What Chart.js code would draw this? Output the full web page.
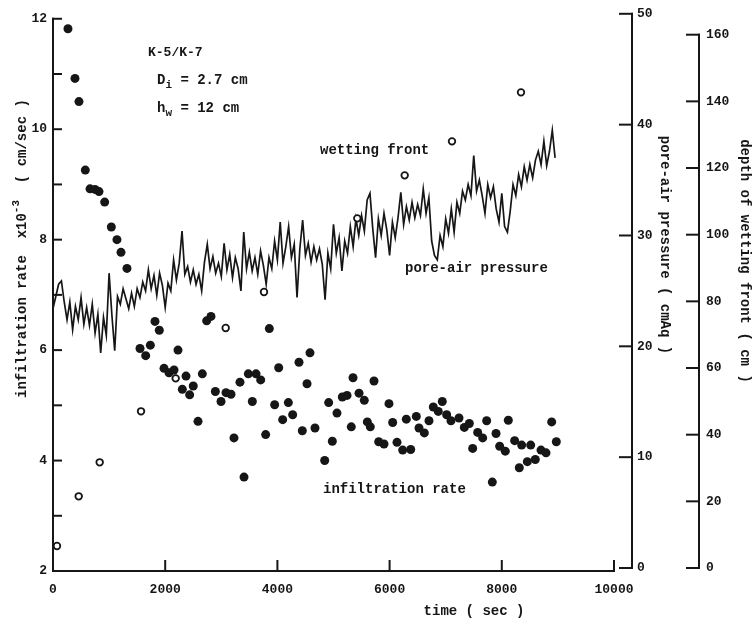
<!DOCTYPE html>
<html>
<head>
<meta charset="utf-8">
<title>K-5/K-7 infiltration test</title>
<script src="https://cdn.jsdelivr.net/npm/chart.js@4.4.0/dist/chart.umd.min.js"></script>
<style>
  html, body { margin: 0; padding: 0; background: #fff; }
  #wrap { width: 752px; height: 619px; }
</style>
</head>
<body>
<div id="wrap"><canvas id="myChart" width="752" height="619"></canvas></div>
<script>
// infiltration rate (x10^-3 cm/sec), filled dots, left axis
const infilTime = [267, 392, 463, 576, 660, 749, 820, 921, 1040, 1140, 1212, 1319,
    1551, 1652, 1735, 1818, 1895, 1979, 2068, 2157, 2228, 2305, 2371, 2436, 2500, 2585,
    2662, 2739, 2816, 2894, 2995, 3084, 3173, 3226, 3333, 3405, 3482, 3553, 3619, 3702,
    3791, 3856, 3951, 4023, 4094, 4195, 4272, 4385, 4444, 4528, 4581, 4670, 4843, 4914,
    4979, 5062, 5157, 5241, 5317, 5348, 5455, 5549, 5603, 5656, 5722, 5806, 5900, 5989,
    6055, 6132, 6233, 6298, 6376, 6476, 6524, 6619, 6702, 6779, 6868, 6939, 7017, 7094,
    7237, 7332, 7421, 7481, 7570, 7659, 7730, 7831, 7897, 7962, 8062, 8116, 8229, 8312,
    8354, 8455, 8515, 8597, 8699, 8788, 8889, 8972];
const infilRate = [11.82, 10.92, 10.50, 9.26, 8.92, 8.91, 8.87, 8.68, 8.23, 8.00, 7.77, 7.48,
    6.03, 5.90, 6.09, 6.52, 6.36, 5.67, 5.59, 5.64, 6.00, 5.29, 5.53, 5.19, 5.35, 4.71,
    5.57, 6.53, 6.61, 5.25, 5.07, 5.23, 5.20, 4.41, 5.42, 3.70, 5.57, 5.07, 5.57, 5.46,
    4.47, 6.39, 5.01, 5.68, 4.74, 5.05, 4.83, 5.78, 4.54, 5.39, 5.95, 4.59, 4.00, 5.05,
    4.35, 4.86, 5.15, 5.18, 4.61, 5.50, 5.22, 5.09, 4.70, 4.61, 5.44, 4.34, 4.30, 5.03,
    4.69, 4.33, 4.19, 4.75, 4.20, 4.80, 4.59, 4.50, 4.72, 4.97, 4.89, 5.07, 4.83, 4.72,
    4.77, 4.60, 4.67, 4.22, 4.51, 4.41, 4.72, 3.61, 4.49, 4.26, 4.17, 4.73, 4.36, 3.87,
    4.28, 3.98, 4.28, 4.02, 4.19, 4.14, 4.70, 4.34];

// depth of wetting front (cm), open circles, far right axis
const frontTime = [71, 458, 832, 1569, 2187, 3078, 3761, 5424, 6269, 7112, 8342];
const frontDepth = [6.6, 21.5, 31.7, 47.0, 56.9, 72.0, 82.8, 104.9, 117.8, 128.0, 142.7];

// pore-air pressure (cmAq), logged every 50 sec from t = 0
const pressureStep = 50;
const pressure = [
    23.4, 24.5, 25.6, 25.9, 24.0, 22.4, 24.0, 21.5, 23.6, 22.4,
    24.4, 22.0, 23.5, 21.9, 23.8, 21.2, 22.9, 19.4, 22.6, 21.0,
    26.6, 22.8, 19.6, 24.5, 23.8, 25.2, 24.3, 23.4, 24.8, 23.6,
    25.2, 24.4, 25.8, 25.0, 26.9, 25.2, 26.4, 24.6, 26.6, 25.5,
    23.5, 25.7, 25.0, 27.8, 26.0, 27.5, 30.4, 26.5, 27.2, 25.8,
    26.9, 25.6, 26.5, 25.0, 27.6, 29.2, 27.0, 28.1, 26.6, 27.5,
    26.3, 29.3, 26.9, 28.3, 26.2, 28.0, 27.0, 25.0, 30.3, 27.0,
    28.5, 26.8, 28.0, 26.5, 28.6, 27.3, 25.6, 28.0, 27.0, 29.5,
    27.8, 31.2, 27.5, 29.0, 30.8, 28.0, 29.2, 24.4, 28.8, 31.4,
    28.2, 29.3, 27.6, 29.0, 27.8, 28.8, 27.4, 24.2, 28.4, 27.0,
    31.0, 28.4, 29.8, 26.8, 29.5, 28.4, 30.8, 29.0, 31.5, 30.0,
    31.8, 30.4, 33.2, 33.8, 30.6, 28.0, 31.5, 30.0, 32.0, 30.5,
    28.2, 31.2, 29.8, 31.6, 33.9, 31.0, 32.6, 31.4, 33.0, 31.6,
    32.8, 31.8, 34.2, 32.0, 33.4, 29.5, 28.2, 27.8, 30.0, 29.0,
    31.5, 30.2, 32.4, 30.3, 33.0, 32.0, 34.0, 33.2, 34.6, 33.6,
    37.2, 34.0, 35.0, 33.6, 32.0, 34.6, 33.4, 34.4, 32.4, 31.2,
    33.8, 30.8, 30.3, 32.2, 34.6, 33.6, 35.5, 34.4, 36.2, 35.0,
    36.4, 35.2, 36.8, 37.6, 36.4, 38.5, 36.3, 37.6, 39.5, 37.0];

// tick labels
const timeTicks = [0, 2000, 4000, 6000, 8000, 10000];
const rateTicks = [2, 4, 6, 8, 10, 12];
const pressureTicks = [0, 10, 20, 30, 40, 50];
const depthTicks = [0, 20, 40, 60, 80, 100, 120, 140, 160];

const INK = '#161616';
const MONO = '"Liberation Mono", "DejaVu Sans Mono", monospace';

function seg(ctx, x1, y1, x2, y2) {
    ctx.beginPath();
    ctx.moveTo(x1, y1);
    ctx.lineTo(x2, y2);
    ctx.stroke();
}

// text with a subscript, e.g. D_i = 2.7 cm
function subText(ctx, base, sub, rest, x, y) {
    ctx.font = 'bold 14px ' + MONO;
    ctx.fillText(base, x, y);
    let w = ctx.measureText(base).width;
    ctx.font = 'bold 11px ' + MONO;
    ctx.fillText(sub, x + w, y + 5);
    w += ctx.measureText(sub).width;
    ctx.font = 'bold 14px ' + MONO;
    ctx.fillText(rest, x + w, y);
}

const paperAxes = {
    id: 'paperAxes',
    afterDraw(chart) {
        const { ctx, chartArea: a, scales } = chart;
        const { x, y, y1, y2 } = scales;
        ctx.save();
        ctx.strokeStyle = INK;
        ctx.fillStyle = INK;
        ctx.lineWidth = 2;
        ctx.lineCap = 'square';

        // left axis, ticks pointing in
        const yTop = y.getPixelForValue(12), yBot = y.getPixelForValue(2);
        seg(ctx, a.left, yTop, a.left, yBot);
        for (let v = 3; v <= 12; v++) {
            const py = y.getPixelForValue(v);
            seg(ctx, a.left, py, a.left + 8, py);
        }

        // time axis
        const xEnd = x.getPixelForValue(10000);
        seg(ctx, a.left, yBot, xEnd, yBot);
        timeTicks.forEach(t => {
            const px = x.getPixelForValue(t);
            seg(ctx, px, yBot, px, yBot - 10);
        });

        ctx.font = 'bold 13px ' + MONO;
        ctx.textBaseline = 'middle';
        ctx.textAlign = 'left';

        // pore-air pressure axis
        const ax1 = a.right + 18;
        seg(ctx, ax1, y1.getPixelForValue(50), ax1, y1.getPixelForValue(0));
        pressureTicks.forEach(v => {
            const py = y1.getPixelForValue(v);
            seg(ctx, ax1 - 12, py, ax1, py);
            ctx.fillText(String(v), ax1 + 5, py);
        });

        // depth of wetting front axis
        const ax2 = a.right + 85;
        seg(ctx, ax2, y2.getPixelForValue(160), ax2, y2.getPixelForValue(0));
        depthTicks.forEach(v => {
            const py = y2.getPixelForValue(v);
            seg(ctx, ax2 - 12, py, ax2, py);
            ctx.fillText(String(v), ax2 + 7, py);
        });

        // axis titles
        ctx.font = 'bold 14px ' + MONO;
        ctx.textAlign = 'center';
        ctx.fillText('time ( sec )', 474, 611);

        ctx.save();
        ctx.translate(665, 245);
        ctx.rotate(Math.PI / 2);
        ctx.fillText('pore-air pressure ( cmAq )', 0, 0);
        ctx.restore();

        ctx.save();
        ctx.translate(745, 261);
        ctx.rotate(Math.PI / 2);
        ctx.fillText('depth of wetting front ( cm )', 0, 0);
        ctx.restore();

        ctx.save();
        ctx.translate(22, 398);
        ctx.rotate(-Math.PI / 2);
        ctx.textAlign = 'left';
        const t1 = 'infiltration rate  x10';
        ctx.fillText(t1, 0, 0);
        let w = ctx.measureText(t1).width;
        ctx.font = 'bold 11px ' + MONO;
        ctx.fillText('-3', w, -6);
        w += ctx.measureText('-3').width;
        ctx.font = 'bold 14px ' + MONO;
        ctx.fillText('  ( cm/sec )', w, 0);
        ctx.restore();

        // annotations
        ctx.textAlign = 'left';
        ctx.font = 'bold 13px ' + MONO;
        ctx.fillText('K-5/K-7', 148, 53);
        subText(ctx, 'D', 'i', ' = 2.7 cm', 157, 80);
        subText(ctx, 'h', 'w', ' = 12 cm', 157, 108);
        ctx.font = 'bold 14px ' + MONO;
        ctx.fillText('wetting front', 320, 150);
        ctx.fillText('pore-air pressure', 405, 268);
        ctx.fillText('infiltration rate', 323, 489);

        ctx.restore();
    }
};

const tickFont = { family: MONO, size: 13, weight: 'bold' };

new Chart(document.getElementById('myChart'), {
    type: 'scatter',
    data: {
        datasets: [{
            label: 'infiltration rate',
            data: infilTime.map((t, i) => ({ x: t, y: infilRate[i] })),
            yAxisID: 'y',
            pointRadius: 4.5,
            pointBackgroundColor: INK,
            pointBorderWidth: 0,
            order: 1
        }, {
            label: 'wetting front',
            data: frontTime.map((t, i) => ({ x: t, y: frontDepth[i] })),
            yAxisID: 'y2',
            pointRadius: 3.3,
            pointBackgroundColor: '#fff',
            pointBorderColor: INK,
            pointBorderWidth: 1.8,
            order: 1
        }, {
            type: 'line',
            label: 'pore-air pressure',
            data: pressure.map((p, i) => ({ x: i * pressureStep, y: p })),
            yAxisID: 'y1',
            borderColor: INK,
            borderWidth: 1.7,
            pointRadius: 0,
            tension: 0,
            fill: false,
            order: 3
        }]
    },
    options: {
        responsive: false,
        animation: false,
        layout: { padding: { top: 11, right: 138, left: 0, bottom: 0 } },
        plugins: {
            legend: { display: false },
            tooltip: { enabled: false }
        },
        scales: {
            x: {
                type: 'linear',
                min: 0,
                max: 10000,
                afterFit: s => { s.height = 48; },
                afterBuildTicks: s => { s.ticks = timeTicks.map(v => ({ value: v })); },
                ticks: { color: INK, font: tickFont, padding: 11, autoSkip: false, maxRotation: 0, callback: v => String(v) },
                grid: { display: false, drawTicks: false },
                border: { display: false }
            },
            y: {
                position: 'left',
                min: 2,
                max: 12.09,
                afterFit: s => { s.width = 53; },
                afterBuildTicks: s => { s.ticks = rateTicks.map(v => ({ value: v })); },
                ticks: { color: INK, font: tickFont, padding: 6, callback: v => String(v) },
                grid: { display: false, drawTicks: false },
                border: { display: false }
            },
            y1: {
                position: 'right',
                display: false,
                min: -0.27,
                max: 50
            },
            y2: {
                position: 'right',
                display: false,
                min: -0.9,
                max: 166.27
            }
        }
    },
    plugins: [paperAxes]
});
</script>
</body>
</html>
